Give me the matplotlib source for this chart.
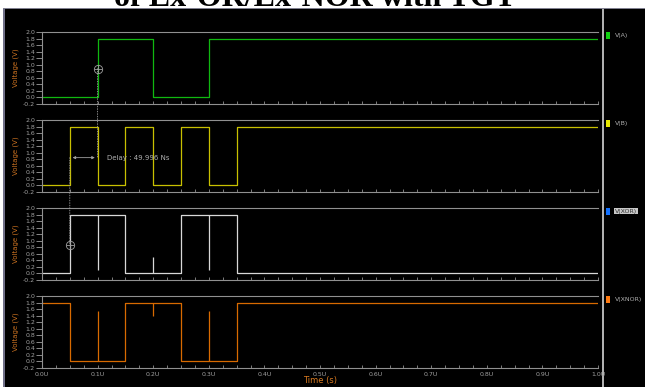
import numpy as np
import matplotlib.pyplot as plt
from matplotlib.patches import Rectangle, ConnectionPatch

# waveform data (step functions, volts vs microseconds)
time_a = [0, 0.1, 0.2, 0.3, 1.0]
level_a = [0, 1.8, 0, 1.8, 1.8]
time_b = [0, 0.05, 0.1, 0.15, 0.2, 0.25, 0.3, 0.35, 1.0]
level_b = [0, 1.8, 0, 1.8, 0, 1.8, 0, 1.8, 1.8]
time_out = [0, 0.05, 0.15, 0.25, 0.35, 1.0]
level_xor = [0, 1.8, 0, 1.8, 0, 0]
level_xnor = [1.8, 0, 1.8, 0, 1.8, 1.8]
glitch_t = [0.1, 0.2, 0.3]
glitch_xor = [0.1, 0.5, 0.1]
glitch_xnor = [1.55, 1.4, 1.55]

names = ['V(A)', 'V(B)', 'V(XOR)', 'V(XNOR)']
line_colors = ['#10b810', '#c8c000', '#d8d8d8', '#d86a00']
key_colors = ['#10d010', '#e8e800', '#1070ff', '#ff7a10']
yticks = np.round(np.arange(-0.2, 2.01, 0.2), 1)
xticks = np.round(np.arange(0, 1.01, 0.1), 1)

W, H = 645, 387
fig = plt.figure(figsize=(W / 100, H / 100), dpi=100, facecolor='white')

# dark background panel
fig.patches.append(Rectangle((3 / W, 0), 1, 1 - 8 / H, transform=fig.transFigure,
                             facecolor='black', edgecolor='none', zorder=-3))
fig.patches.append(Rectangle((3 / W, 0), 2 / W, 1 - 8 / H, transform=fig.transFigure,
                             facecolor='#707088', edgecolor='none', zorder=-2))
fig.patches.append(Rectangle((602 / W, 0), 2 / W, 1 - 8 / H, transform=fig.transFigure,
                             facecolor='#b0b0b0', edgecolor='none', zorder=-2))
fig.patches.append(Rectangle((3 / W, 1 - 9 / H), 1, 1 / H, transform=fig.transFigure,
                             facecolor='#808090', edgecolor='none', zorder=-2))

fig.text(0.488, 1 - 6 / H, 'of Ex-OR/Ex-NOR with TGT', ha='center', va='baseline',
         fontsize=23, fontweight='bold', family='Liberation Serif', color='black')

tops = [32, 120, 208, 296]
height = 72
left, right = 42, 598
axes = []
for i, top in enumerate(tops):
    ax = fig.add_axes([left / W, 1 - (top + height) / H, (right - left) / W, height / H])
    ax.set_facecolor('black')
    ax.set_xlim(0, 1.0)
    ax.set_ylim(-0.2, 2.0)
    for s in ['left', 'top', 'bottom']:
        ax.spines[s].set_color('#909090')
        ax.spines[s].set_linewidth(0.8)
    ax.spines['right'].set_visible(False)
    ax.set_yticks(yticks)
    ax.set_yticklabels(['%.1f' % v for v in yticks])
    ax.tick_params(axis='y', colors='#a0a0a0', labelsize=4.5, length=4, width=0.6, pad=1)
    ax.set_xticks(xticks)
    ax.set_xticks(np.arange(0, 1.001, 0.025), minor=True)
    ax.tick_params(axis='x', which='both', direction='in', colors='#909090', length=2, width=0.6)
    if i == 3:
        ax.set_xticklabels(['%.1fU' % v for v in xticks])
        ax.tick_params(axis='x', labelsize=4.5, labelcolor='#a0a0a0', pad=3)
        ax.set_xlabel('Time (s)', color='#d87a20', fontsize=6, labelpad=-1)
    else:
        ax.set_xticklabels([])
    ax.set_ylabel('Voltage (V)', color='#c87020', fontsize=5, labelpad=3)
    axes.append(ax)
    # legend key on the right
    fy = 1 - (top + 3) / H
    fig.patches.append(Rectangle((606 / W, fy - 4 / H), 4 / W, 7 / H, transform=fig.transFigure,
                                 facecolor=key_colors[i], edgecolor='none', zorder=3))
    if names[i] == 'V(XOR)':
        fig.text(615 / W, fy, names[i], color='#303030', fontsize=4.5, va='center', ha='left',
                 bbox=dict(boxstyle='square,pad=0.15', facecolor='#c8c8c8', edgecolor='none'))
    else:
        fig.text(615 / W, fy, names[i], color='#b0b0b0', fontsize=4.5, va='center', ha='left')

series = [(time_a, level_a), (time_b, level_b), (time_out, level_xor), (time_out, level_xnor)]
for ax, (t, v), c in zip(axes, series, line_colors):
    ax.plot(t, v, drawstyle='steps-post', color=c, lw=0.9)

# glitches at the switching instants
for ax, g, v, c in [(axes[2], glitch_xor, level_xor, line_colors[2]),
                    (axes[3], glitch_xnor, level_xnor, line_colors[3])]:
    idx = np.searchsorted(time_out, glitch_t, side='right') - 1
    base = np.array(v)[idx]
    ax.vlines(glitch_t, base, g, color=c, lw=0.9)

# cursors and delay measurement
cur_y = 0.88
for ax, x in [(axes[0], 0.1), (axes[2], 0.05)]:
    ax.plot(x, cur_y, marker='o', ms=6, mfc='none', mec='#a0a0a0', mew=0.6, zorder=5)
    ax.plot(x, cur_y, marker='+', ms=6, mec='#a0a0a0', mew=0.6, zorder=5)
delay_y = 0.85
for a_top, a_bot, x in [(axes[0], axes[1], 0.1), (axes[1], axes[2], 0.05)]:
    y0 = cur_y if a_top is axes[0] else delay_y
    y1 = delay_y if a_bot is axes[1] else cur_y
    con = ConnectionPatch(xyA=(x, y0), coordsA=a_top.transData, xyB=(x, y1), coordsB=a_bot.transData,
                          linestyle=(0, (1, 2)), color='#a0a0a0', lw=0.6, zorder=4)
    fig.add_artist(con)
axes[1].annotate('', xy=(0.05, delay_y), xytext=(0.1, delay_y),
                 arrowprops=dict(arrowstyle='<|-|>', color='#a0a0a0', lw=0.6, mutation_scale=4))
axes[1].text(0.117, delay_y, 'Delay : 49.996 Ns', color='#b0b0b0', fontsize=5, va='center')

fig.savefig('out.png', dpi=100, facecolor='white')
